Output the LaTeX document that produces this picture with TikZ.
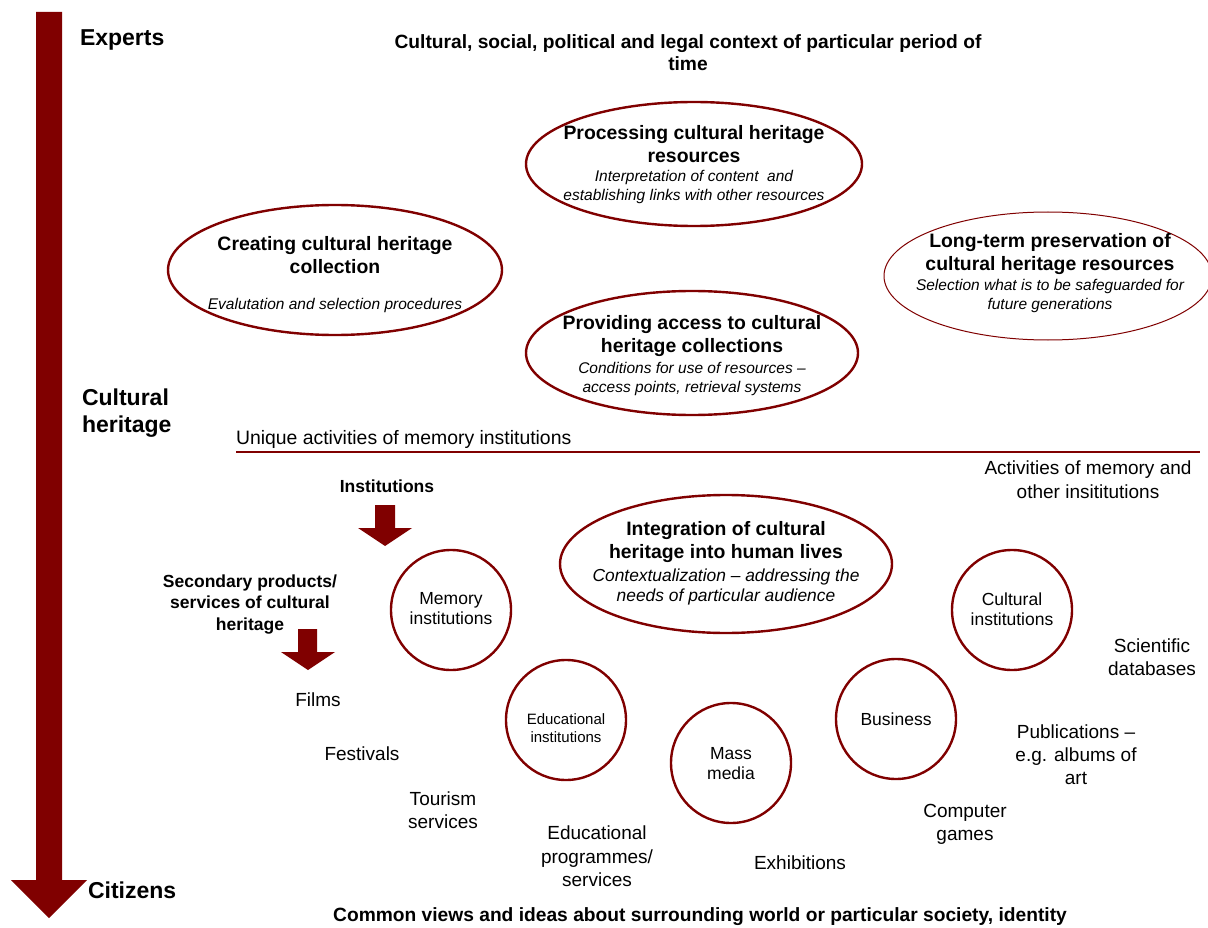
\documentclass[tikz,border=0pt]{standalone}
\usepackage{fontspec}
\setmainfont{Liberation Sans}
\usetikzlibrary{shapes.geometric}
\definecolor{maroon}{RGB}{128,0,0}
\newcommand\fsz[2]{\fontsize{#1pt}{#2pt}\selectfont}
\tikzset{
  x=1pt, y=-1pt,
  every node/.style={inner sep=0pt, outer sep=0pt, text=black},
  ring/.style={draw=maroon, line width=2.4pt, ellipse},
  thinring/.style={draw=maroon, line width=1pt, ellipse},
  circ/.style={draw=maroon, line width=2.4pt, circle, minimum size=120pt},
  heading/.style={font=\bfseries\fsz{23}{27}, align=left},
  title/.style={font=\bfseries\fsz{19.4}{23}, align=center},
  subtitle/.style={font=\itshape\fsz{15.5}{18.5}, align=center},
  item/.style={font=\fsz{19}{23}, align=center},
  circlabel/.style={font=\fsz{17.5}{20}, align=center},
  smallhead/.style={font=\bfseries\fsz{17.5}{21.5}, align=center},
  context/.style={font=\bfseries\fsz{19.2}{22}, align=center},
  downarrow/.style={fill=maroon, draw=none}
}
\begin{document}
\begin{tikzpicture}
\useasboundingbox[fill=white] (0,0) rectangle (1208,928);

% main vertical axis: from experts down to citizens
\fill[downarrow] (36,12) -- (62,12) -- (62,880) -- (87,880) -- (49,918)
  -- (11,880) -- (36,880) -- cycle;
\node[heading, anchor=west] (experts) at (80,40) {Experts};
\node[heading, anchor=west] (heritage) at (82,413) {Cultural\\heritage};
\node[heading, anchor=west] (citizens) at (88,890) {Citizens};

% context lines at top and bottom
\node[context] (ctxtop) at (688,53) {Cultural, social, political and legal context of particular period of\\time};
\node[context] (ctxbottom) at (700,917) {Common views and ideas about surrounding world or particular society, identity};

% unique activities of memory institutions
\node[ring, minimum width=336pt, minimum height=124pt] (proc) at (694,164) {};
\node[title] (proctitle) at (694,144.5) {Processing cultural heritage\\resources};
\node[subtitle] (procsub) at (694,187) {Interpretation of content\ \ and\\establishing links with other resources};

\node[ring, minimum width=334pt, minimum height=130pt] (create) at (335,270) {};
\node[title] (createtitle) at (335,255) {Creating cultural heritage\\collection};
\node[subtitle] (createsub) at (335,305) {Evalutation and selection procedures};

\node[thinring, minimum width=328pt, minimum height=128pt] (preserve) at (1048,276) {};
\node[title] (preservetitle) at (1050,254) {Long-term preservation of\\cultural heritage resources};
\node[subtitle] (preservesub) at (1050,296) {Selection what is to be safeguarded for\\future generations};

\node[ring, minimum width=332pt, minimum height=124pt] (access) at (692,353) {};
\node[title] (accesstitle) at (692,336.5) {Providing access to cultural\\heritage collections};
\node[subtitle] (accesssub) at (692,379) {Conditions for use of resources –\\access points, retrieval systems};

\node[font=\fsz{19.4}{23}, anchor=west] (unique) at (236,439) {Unique activities of memory institutions};
\coordinate (divleft) at (236,452);
\coordinate (divright) at (1200,452);
\draw[maroon, line width=2pt] (divleft) -- (divright);
\node[item, font=\fsz{19}{24}] (shared) at (1088,480) {Activities of memory and\\other insititutions};

% institutions
\node[smallhead] (instlabel) at (387,486) {Institutions};
\fill[downarrow] (375,505) -- (395,505) -- (395,528) -- (412,528) -- (385,546)
  -- (358,528) -- (375,528) -- cycle;

\node[smallhead] (secondary) at (250,604.5) {Secondary products/\\services of cultural\\heritage};
\fill[downarrow] (298,629) -- (317,629) -- (317,652) -- (335,652) -- (308,670)
  -- (281,652) -- (298,652) -- cycle;

\node[ring, minimum width=332pt, minimum height=138pt] (integr) at (726,564) {};
\node[title] (integrtitle) at (726,542.5) {Integration of cultural\\heritage into human lives};
\node[subtitle, font=\itshape\fsz{17.4}{20.5}] (integrsub) at (726,587) {Contextualization – addressing the\\needs of particular audience};

\node[circ] (memory) at (451,610) {};
\node[circlabel] at (memory.center) [yshift=1pt] {Memory\\institutions};
\node[circ] (cultinst) at (1012,610) {};
\node[circlabel] at (cultinst.center) [yshift=1pt] {Cultural\\institutions};
\node[circ] (eduinst) at (566,720) {};
\node[circlabel, font=\fsz{15}{18}] at (eduinst.center) [yshift=-8pt] {Educational\\institutions};
\node[circ] (mass) at (731,763) {};
\node[circlabel] at (mass.center) [yshift=-1pt] {Mass\\media};
\node[circ] (business) at (896,719) {};
\node[circlabel] at (business.center) {Business};

% secondary products and services
\node[item] (films) at (318,700) {Films};
\node[item] (festivals) at (362,754) {Festivals};
\node[item] (tourism) at (443,810.5) {Tourism\\services};
\node[item, font=\fsz{19}{23.5}] (eduprog) at (597,856.5) {Educational\\programmes/\\services};
\node[item] (exhib) at (800,863) {Exhibitions};
\node[item] (games) at (965,824) {Computer\\games};
\node[item] (publ) at (1076,755) {Publications –\\e.g. albums of\\art};
\node[item] (sci) at (1152,657.5) {Scientific\\databases};
\end{tikzpicture}
\end{document}
